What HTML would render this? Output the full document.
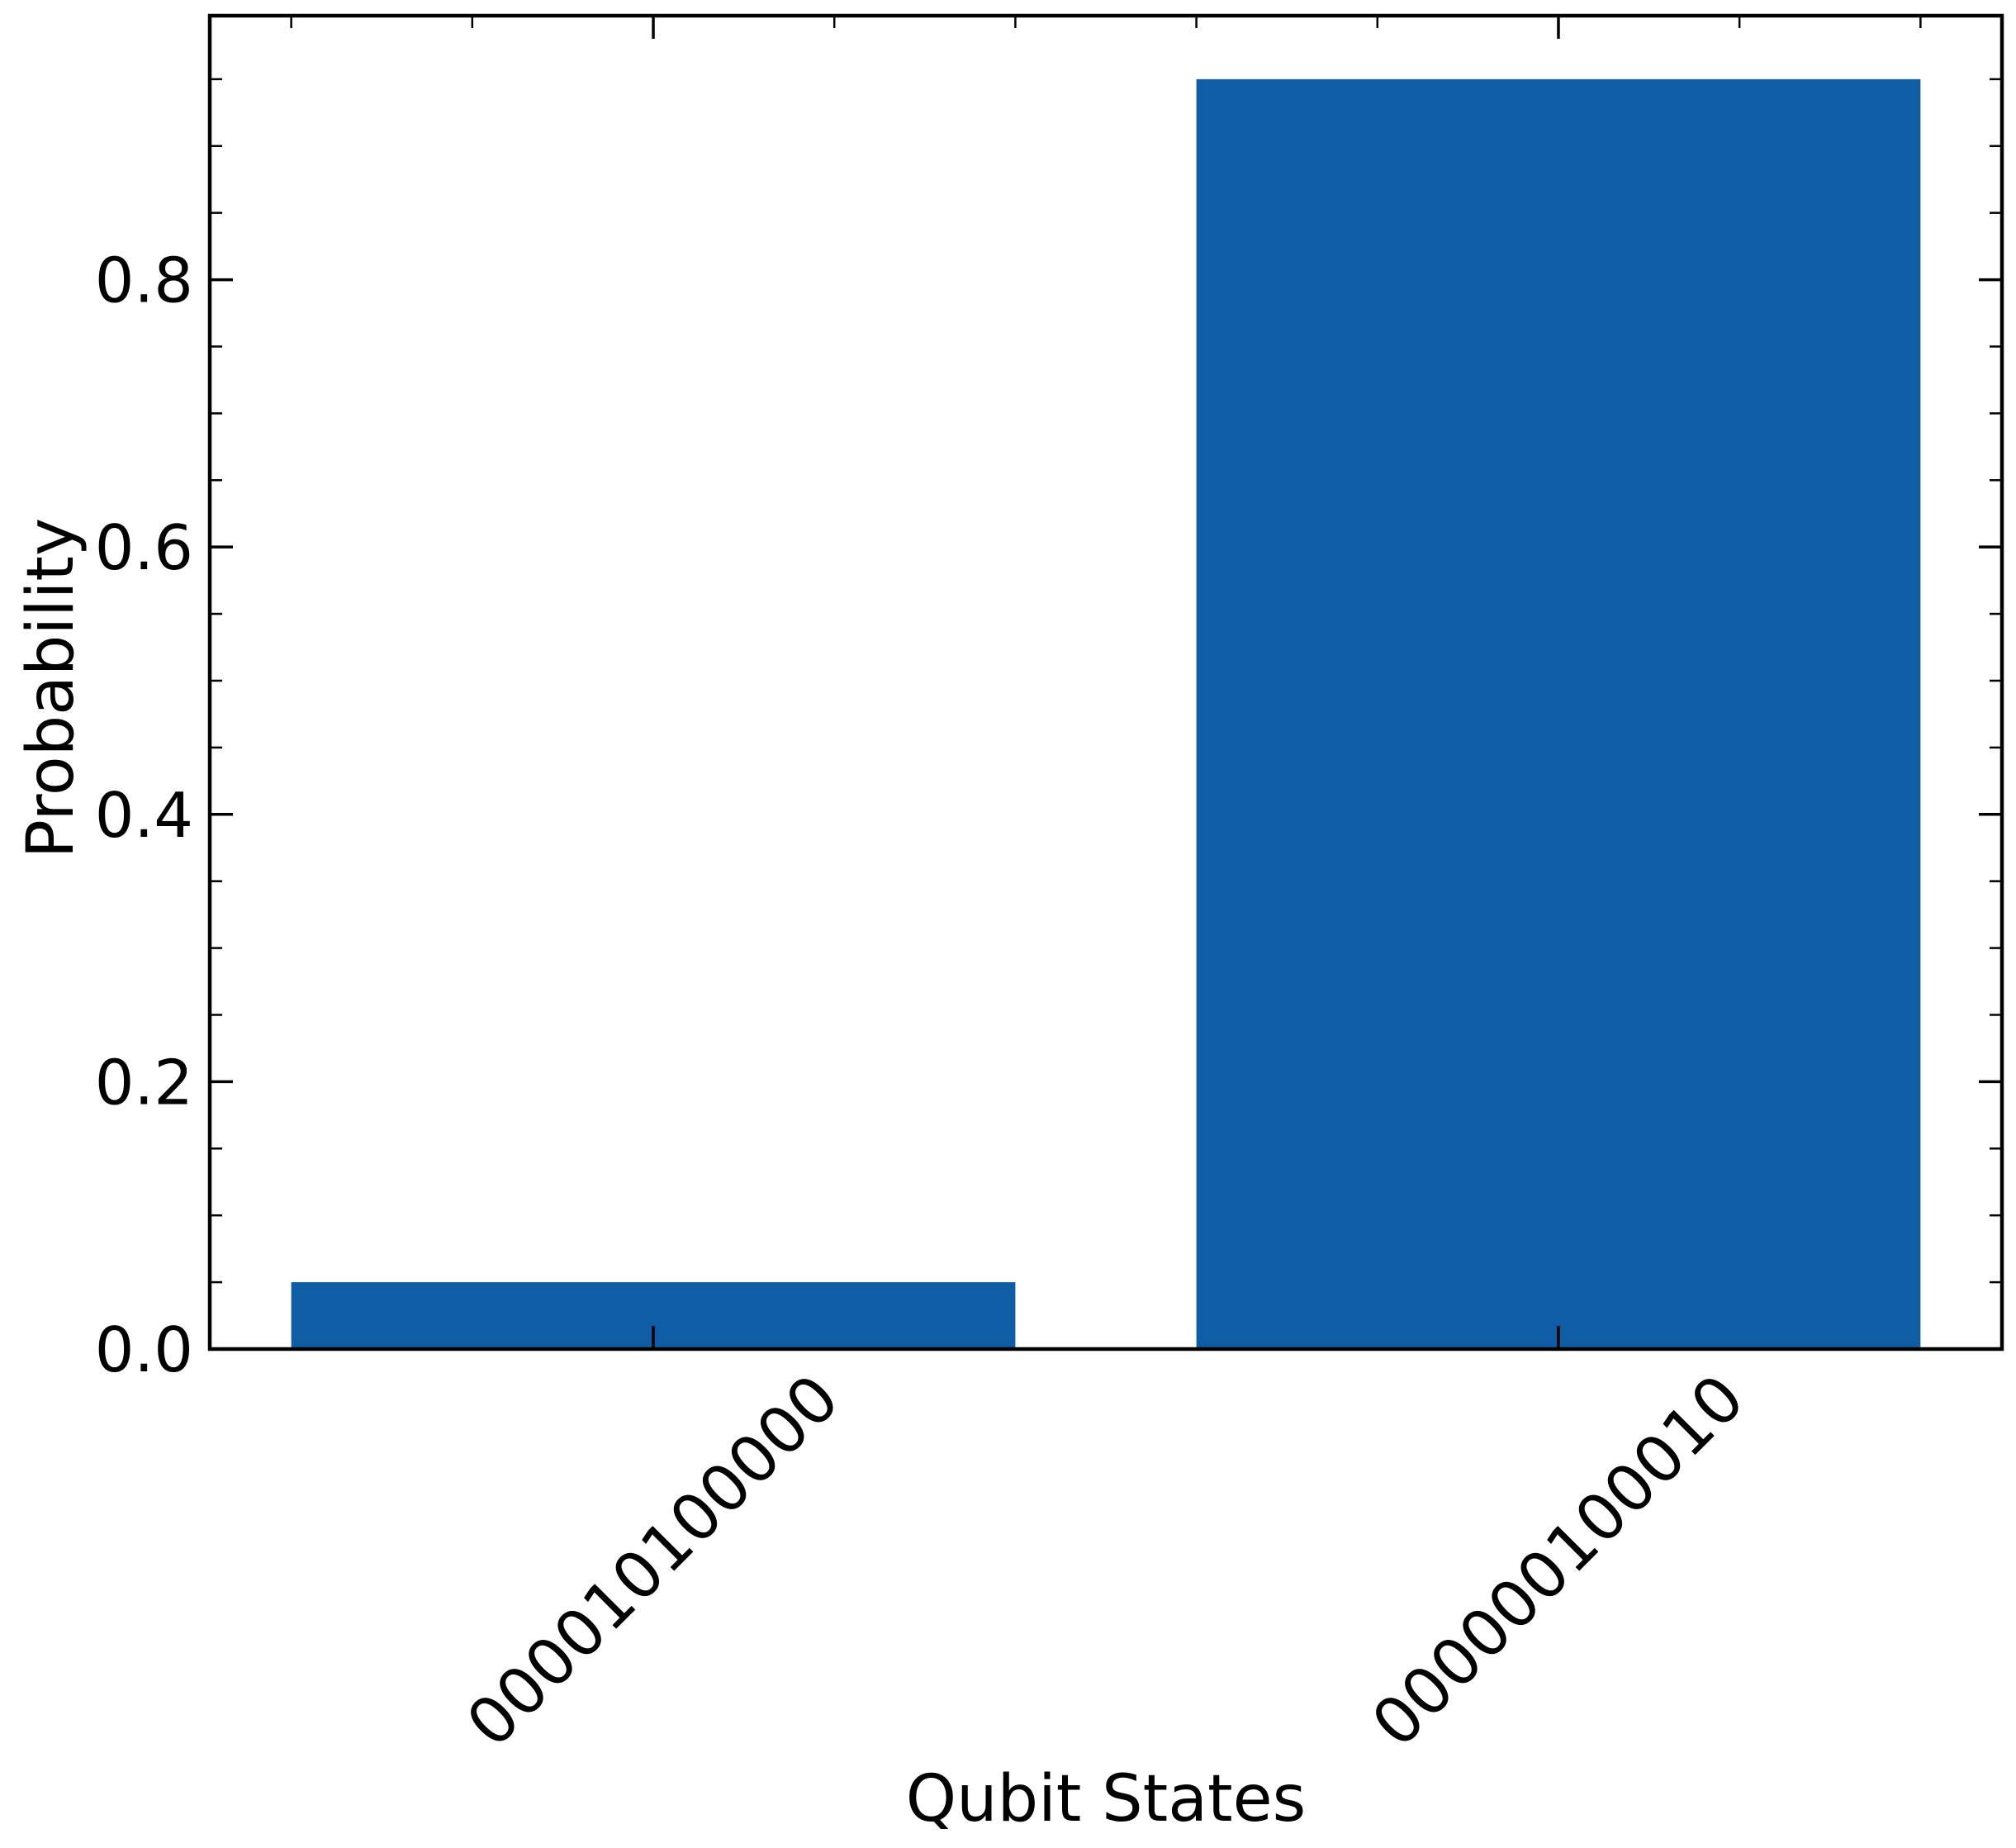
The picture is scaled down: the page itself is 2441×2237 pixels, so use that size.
<!DOCTYPE html>
<html><head><meta charset="utf-8"><style>
body{margin:0;background:#fff}
svg{display:block}
text{font-family:"DejaVu Sans","Liberation Sans",sans-serif;fill:#000}
</style></head><body>
<svg id="chart" width="2441" height="2237" viewBox="0 0 2441 2237" xmlns="http://www.w3.org/2000/svg">
<g id="bars"></g>
<g id="ticks"></g>
<rect x="254" y="19" width="2170" height="1614" fill="none" stroke="#000" stroke-width="4.5"/>
<g id="labels"></g>
<text transform="translate(88,833) rotate(-90)" text-anchor="middle" font-size="78">Probability</text>
<text x="1339" y="2204" text-anchor="middle" font-size="78">Qubit States</text>
</svg>
<script>
const categories = ["000010100000", "000000100010"];
const probabilities = [0.05, 0.95];
const yTickLabels = ["0.0", "0.2", "0.4", "0.6", "0.8"];
const yTickValues = [0, 0.2, 0.4, 0.6, 0.8];

const NS = "http://www.w3.org/2000/svg";
const L = 254, R = 2424, T = 19, B = 1633;
const xMin = -0.49, xMax = 1.49;
const yMax = Math.max(...probabilities) * 1.05;
const xs = v => L + (v - xMin) / (xMax - xMin) * (R - L);
const ys = v => B - v / yMax * (B - T);
function mk(tag, attrs, parent) {
  const e = document.createElementNS(NS, tag);
  for (const k in attrs) e.setAttribute(k, attrs[k]);
  parent.appendChild(e);
  return e;
}
const barsG = document.getElementById('bars');
const ticksG = document.getElementById('ticks');
const labelsG = document.getElementById('labels');

probabilities.forEach((p, i) => {
  const r = mk('rect', {x: xs(i - 0.4), y: ys(p), width: xs(i + 0.4) - xs(i - 0.4), height: ys(0) - ys(p), fill: '#0e5da5'}, barsG);
  
  
  const t = mk('text', {transform: `translate(${xs(i)},1890) rotate(-45)`, 'text-anchor': 'middle', 'dominant-baseline': 'central', 'font-size': '78'}, labelsG);
  t.textContent = categories[i];
  
  
  const tb = mk('line', {x1: xs(i), x2: xs(i), y1: B, y2: B - 28, stroke: '#000', 'stroke-width': 3.5}, ticksG);
  
  
  const tt = mk('line', {x1: xs(i), x2: xs(i), y1: T, y2: T + 28, stroke: '#000', 'stroke-width': 3.5}, ticksG);
  
  
});
for (let k = -2; k <= 7; k++) {
  const v = k * 0.2;
  if (Math.abs(v - Math.round(v)) < 1e-6) continue;
  if (v < xMin || v > xMax) continue;
  const m = mk('line', {x1: xs(v), x2: xs(v), y1: T, y2: T + 15, stroke: '#000', 'stroke-width': 2.5}, ticksG);
  
  
}
for (let k = 0; k * 0.05 <= yMax + 1e-9; k++) {
  const v = k * 0.05;
  const major = k % 4 === 0;
  const len = major ? 28 : 15;
  const a = mk('line', {x1: L, x2: L + len, y1: ys(v), y2: ys(v), stroke: '#000', 'stroke-width': major ? 3.5 : 2.5}, ticksG);
  
  
  const b = mk('line', {x1: R, x2: R - len, y1: ys(v), y2: ys(v), stroke: '#000', 'stroke-width': major ? 3.5 : 2.5}, ticksG);
  
  
}
yTickValues.forEach((v, i) => {
  const t = mk('text', {x: 234, y: ys(v) + 27, 'text-anchor': 'end', 'font-size': '75'}, labelsG);
  t.textContent = yTickLabels[i];
  
  
});
</script>
</body></html>
